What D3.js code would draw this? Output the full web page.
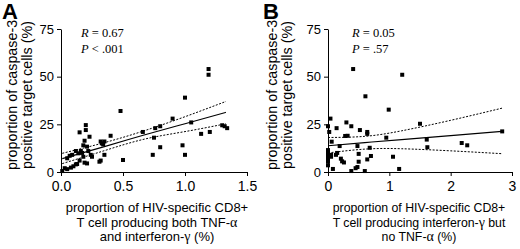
<!DOCTYPE html>
<html>
<head>
<meta charset="utf-8">
<script src="https://cdn.jsdelivr.net/npm/d3@7"></script>
<style>
  body { margin: 0; background: #fff; }
  svg { display: block; }
</style>
</head>
<body>
<div id="chart"></div>
<script>
// panel A: both TNF-a and IFN-g
const aX = [0.01,0.03,0.05,0.08,0.10,0.12,0.13,0.15,0.05,0.07,0.09,0.12,0.14,0.16,0.17,0.18,
  0.15,0.20,0.20,0.23,0.19,0.18,0.21,0.22,0.24,0.19,0.21,0.25,0.32,0.33,0.34,0.35,0.32,0.31,0.35,
  0.40,0.48,0.50,0.66,0.75,0.76,0.80,0.80,0.74,0.90,0.98,1.00,1.00,1.05,1.13,1.19,1.19,1.20,1.30,1.32,1.34];
const aY = [0.5,2,1.5,2.3,3,4,4.2,6,7.2,8.5,9,11,9.8,11,10,8,
  20.8,24.6,22,18.5,16.4,14,13.3,11,9,4.9,4.5,8,16,15,14.5,16,6,5.4,9,
  19,32,6.3,21,18,23,24,13,9,28,14,39,9,26,20,54,51,21,24.5,24,23];

// fitted line and 95% band of A
const aFitX = [0.01, 0.35, 0.67, 1.0, 1.33];
const aFit  = [7.0, 13.3, 19.4, 25.3, 31.3];
const aHi   = [9.8, 15.4, 21.6, 29.0, 37.0];
const aLo   = [4.4, 11.2, 17.2, 21.2, 25.3];

// panel B: IFN-g but no TNF-a
const bX = [0.00,0.04,0.02,0.06,0.00,0.00,0.00,0.00,0.00,0.00,0.05,0.05,0.08,0.14,0.13,0.15,0.19,0.21,0.23,0.26,
  0.30,0.28,0.32,0.38,0.41,0.38,0.45,0.48,0.48,0.50,0.50,0.52,0.60,0.61,0.64,0.64,0.64,0.68,0.70,
  0.95,0.99,1.06,1.16,1.21,1.50,1.61,1.62,2.18,2.27,2.84];
const bY = [24,28,21,15.9,11.5,10.1,8.9,7.2,5.4,3.5,8,9,1.6,23,9,10,13.6,7,5.6,5,
  26,18.9,19,24,54,0.5,2,2.6,13.6,9.5,5.4,22,0.5,39.7,21,20,6.6,12.7,8.4,
  18,32.7,8,1.6,51,25.3,17,13,15.2,14,21.3];

const bFitX = [0, 0.6, 1.2, 2.0, 2.84];
const bFit  = [13.8, 15.4, 17.0, 19.1, 21.3];
const bHi   = [18.1, 18.7, 21.6, 27.1, 33.5];
const bLo   = [10.0, 12.0, 12.2, 11.1, 9.6];

const yTicks = [0, 25, 50, 75];
const aTicks = [0, 0.5, 1.0, 1.5];
const bTicks = [0, 1, 2, 3];

const W = 520, H = 249;
const sans = "'Liberation Sans', Arial, Helvetica, sans-serif";
const serif = "'Liberation Serif', 'Times New Roman', serif";

const svg = d3.select("#chart").append("svg")
  .attr("width", W)
  .attr("height", H)
  .style("background", "#fff");

function panel(o) {
  const x = d3.scaleLinear().domain(o.xDomain).range(o.xRange);
  const y = d3.scaleLinear().domain([0, 75]).range([172, 29]);
  const g = svg.append("g");

  // axes
  const ya = g.append("g")
    .attr("transform", `translate(${o.xRange[0]},0)`)
    .call(d3.axisLeft(y).tickValues(yTicks).tickSize(4).tickSizeOuter(0).tickPadding(3));
  const xa = g.append("g")
    .attr("transform", "translate(0,172)")
    .call(d3.axisBottom(x).tickValues(o.xTicks).tickFormat(o.fmt).tickSize(4).tickSizeOuter(0).tickPadding(5));
  ya.selectAll("text").style("font-size", "13px");
  xa.selectAll("text").style("font-size", "14px");
  [ya, xa].forEach(a => {
    a.selectAll("text").style("font-family", sans).attr("fill", "#000");
    a.selectAll("line,path").attr("stroke", "#000").attr("stroke-width", 1);
  });

  // regression line + 95% band
  const line = vals => d3.line().curve(d3.curveNatural)
    .x((d, i) => x(o.fitX[i])).y(d => y(d))(vals);
  g.append("path").attr("d", line(o.fit)).attr("fill", "none").attr("stroke", "#000").attr("stroke-width", 1.1);
  [o.lo, o.hi].forEach(v => {
    g.append("path").attr("d", line(v)).attr("fill", "none").attr("stroke", "#000")
      .attr("stroke-width", 1).attr("stroke-dasharray", "2,1.5");
  });

  // points
  g.selectAll("rect.pt")
    .data(o.xs.map((d, i) => [d, o.ys[i]]))
    .enter()
    .append("rect")
    .attr("class", "pt")
    .attr("x", d => x(d[0]) - 2)
    .attr("y", d => y(d[1]) - 2)
    .attr("width", 4)
    .attr("height", 4)
    .attr("fill", "#000");

  // panel letter
  g.append("text").attr("x", o.letterX).attr("y", 19)
    .style("font-family", sans).style("font-size", "22px").style("font-weight", "bold")
    .text(o.letter);

  // stats
  const st = g.append("text").style("font-family", serif).style("font-size", "12.5px");
  st.append("tspan").attr("x", o.statX).attr("y", 37).style("font-style", "italic").text("R");
  st.append("tspan").text(" = " + o.r);
  const st2 = g.append("text").style("font-family", serif).style("font-size", "12.5px");
  st2.append("tspan").attr("x", o.statX).attr("y", 53).style("font-style", "italic").text("P");
  st2.append("tspan").text(" " + o.p);

  // y title
  const yt = g.append("text")
    .attr("transform", `translate(${o.yTitleX},95) rotate(-90)`)
    .attr("text-anchor", "middle")
    .style("font-family", sans).style("font-size", "14.3px");
  yt.append("tspan").attr("x", 0).attr("y", 0).text("proportion of caspase-3");
  yt.append("tspan").attr("x", 0).attr("y", 15).text("positive target cells (%)");

  // x title
  o.xTitle.forEach((ln, i) => {
    const t = g.append("text")
      .attr("x", o.xTitleX).attr("y", 212 + i * 14.5)
      .attr("text-anchor", "middle")
      .style("font-family", sans).style("font-size", o.xTitleSize);
    ln.forEach(part => {
      const sp = t.append("tspan").text(part.t);
      if (part.g) sp.style("font-family", serif).style("font-size", "14px");
    });
  });
}

panel({
  letter: "A", letterX: 2,
  xs: aX, ys: aY, fitX: aFitX, fit: aFit, hi: aHi, lo: aLo,
  xDomain: [0, 1.5], xRange: [61, 247], xTicks: aTicks, fmt: d3.format(".1f"),
  r: "0.67", p: "< .001", statX: 81,
  yTitleX: 17,
  xTitleX: 157, xTitleSize: "13px",
  xTitle: [
    [{ t: "proportion of HIV-specific CD8+" }],
    [{ t: "T cell producing both TNF-" }, { t: "α", g: true }],
    [{ t: "and interferon-" }, { t: "γ", g: true }, { t: " (%)" }]
  ]
});

panel({
  letter: "B", letterX: 263,
  xs: bX, ys: bY, fitX: bFitX, fit: bFit, hi: bHi, lo: bLo,
  xDomain: [0, 3], xRange: [328, 512], xTicks: bTicks, fmt: d3.format("d"),
  r: "0.05", p: "= .57", statX: 352,
  yTitleX: 277,
  xTitleX: 419, xTitleSize: "12.3px",
  xTitle: [
    [{ t: "proportion of HIV-specific CD8+" }],
    [{ t: "T cell producing interferon-" }, { t: "γ", g: true }, { t: " but" }],
    [{ t: "no TNF-" }, { t: "α", g: true }, { t: " (%)" }]
  ]
});
</script>
</body>
</html>
